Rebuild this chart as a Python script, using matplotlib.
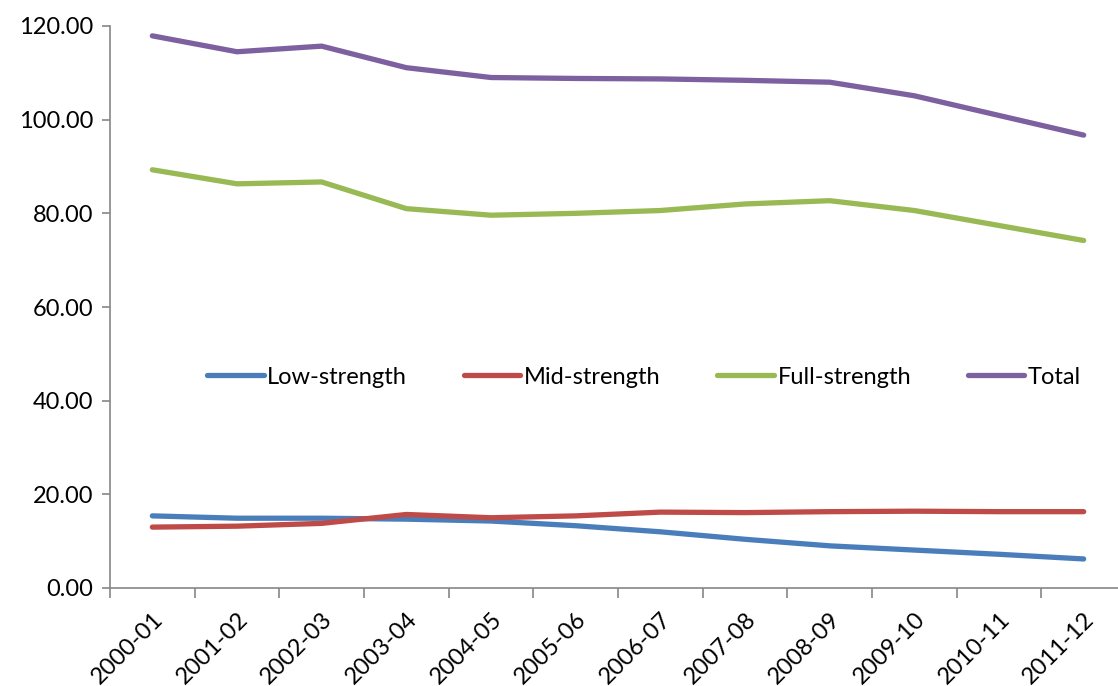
import matplotlib
matplotlib.use("Agg")
import matplotlib.pyplot as plt
import numpy as np

years = ["2000-01", "2001-02", "2002-03", "2003-04", "2004-05", "2005-06",
         "2006-07", "2007-08", "2008-09", "2009-10", "2010-11", "2011-12"]
low = [15.4, 14.9, 14.9, 14.7, 14.3, 13.3, 12.0, 10.4, 9.0, 8.1, 7.2, 6.2]
mid = [13.0, 13.2, 13.8, 15.7, 15.0, 15.4, 16.2, 16.1, 16.3, 16.4, 16.3, 16.3]
full = [89.3, 86.3, 86.7, 81.0, 79.6, 80.0, 80.6, 82.0, 82.7, 80.6, 77.4, 74.2]
total = [117.9, 114.5, 115.7, 111.1, 109.0, 108.8, 108.7, 108.4, 108.0, 105.1, 100.9, 96.7]

series = [("Low-strength", low, "#4A7EBB"),
          ("Mid-strength", mid, "#BE4B48"),
          ("Full-strength", full, "#98B954"),
          ("Total", total, "#7D60A0")]

plt.rcParams['font.family'] = ['Lato', 'DejaVu Sans']

W, H = 1118, 686
fig = plt.figure(figsize=(W / 100, H / 100), dpi=100)
ax = fig.add_axes([110 / W, (H - 588) / H, (1126 - 110) / W, (588 - 26) / H])

x = np.arange(len(years))
for name, vals, c in series:
    ax.plot(x, vals, color=c, lw=3.8, label=name, solid_capstyle='round', solid_joinstyle='round')

ax.set_xlim(-0.5, len(years) - 0.5)
ax.set_ylim(0, 120)
ax.set_yticks(np.arange(0, 121, 20))
ax.set_yticklabels([f"{v:.2f}" for v in np.arange(0, 121, 20)], fontsize=17)
ax.set_xticks(x)
ax.set_xticklabels(years, rotation=45, ha='right', rotation_mode='anchor', fontsize=17)
ax.set_xticks(np.arange(-0.5, len(years), 1), minor=True)
ax.tick_params(axis='x', which='major', length=0, pad=15)
ax.tick_params(axis='x', which='minor', length=7, color='#868686', width=1.2)
ax.tick_params(axis='y', length=6, color='#868686', width=1.2, pad=6)
for s in ['top', 'right']:
    ax.spines[s].set_visible(False)
for s in ['left', 'bottom']:
    ax.spines[s].set_color('#868686')
    ax.spines[s].set_linewidth(1.2)

leg = fig.legend(loc='center', bbox_to_anchor=((203 + 1085) / 2 / W, (H - 377) / H),
                 ncol=4, frameon=False, fontsize=17, handlelength=2.4,
                 handletextpad=0.15, columnspacing=2.4)
for l in leg.get_lines():
    l.set_linewidth(3.8)

fig.savefig("out.png", dpi=100)
